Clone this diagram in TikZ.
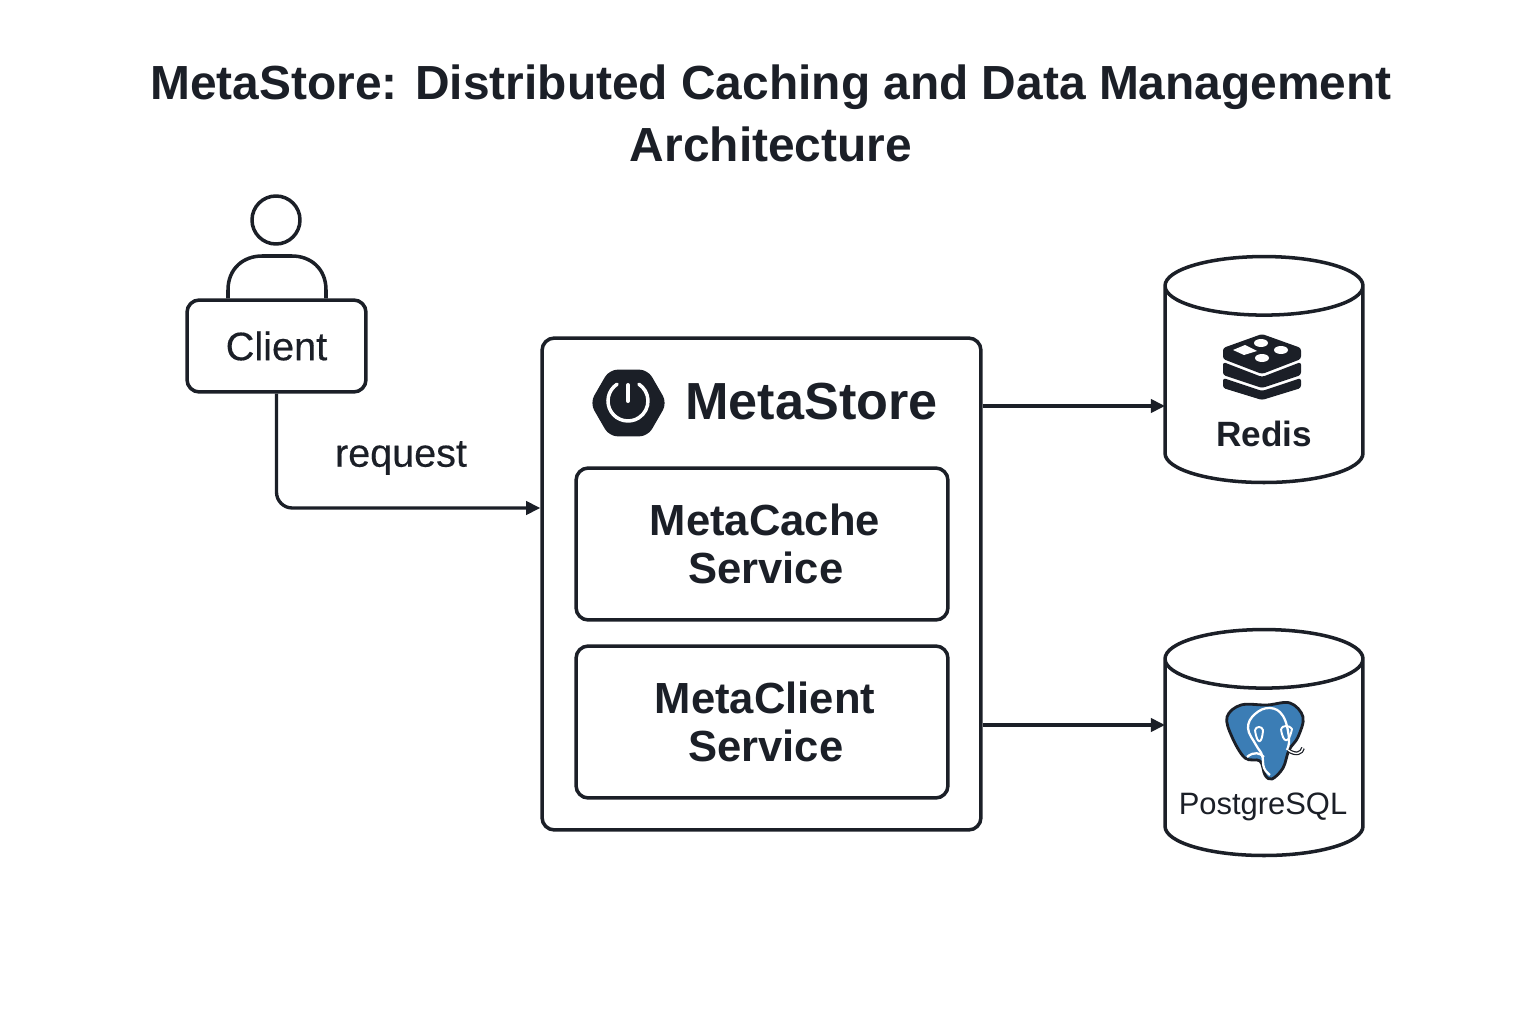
\documentclass[tikz,border=0pt]{standalone}
\usepackage{fontspec}
\setmainfont{Liberation Sans}
\newfontfamily\medfont[FakeBold=0.4]{Liberation Sans}
\usetikzlibrary{shapes.geometric,arrows.meta}
\definecolor{ink}{HTML}{1B1F27}
\definecolor{pgblue}{HTML}{3B7DB5}
\begin{document}
\begin{tikzpicture}[
    x=0.02cm,
    y=-0.02cm,
    line join=round,
    box/.style={rectangle, draw=ink, line width=2pt, rounded corners=7pt, align=center, text=ink},
    inner/.style={box, minimum width=7.44cm, minimum height=3.04cm, font=\fontsize{24.8}{27.2}\selectfont\bfseries},
    db/.style={cylinder, shape border rotate=90, shape aspect=5, draw=ink, line width=2pt, minimum width=3.96cm, minimum height=4.52cm, outer sep=0pt},
    arrow/.style={-{Triangle[length=8pt, width=7.5pt]}, draw=ink, line width=1.9pt},
    label/.style={text=ink, inner sep=0pt}
]
\useasboundingbox (0,0) rectangle (1536,1024);

% Title
\node[label, align=center, font=\fontsize{27.25}{35.2}\selectfont\bfseries] (title) at (771,113)
    {MetaStore: Distributed Caching and Data Management\\Architecture};

% Client
\node[circle, draw=ink, line width=2pt, minimum size=0.96cm, inner sep=0pt] (head) at (276,220) {};
\node[box, minimum width=3.58cm, minimum height=1.84cm, font=\fontsize{22.6}{24}\selectfont\medfont] (client) at (276.5,346) {Client};
\draw[ink, line width=2pt] (client.north -| 228,0) -- (228,290) .. controls (228,268) and (244,256) .. (262,256)
    -- (292,256) .. controls (310,256) and (326,268) .. (326,290) -- (client.north -| 326,0);

% MetaStore
\node[box, minimum width=8.78cm, minimum height=9.84cm] (metastore) at (761.5,584) {};
\node[inner] (metacache) at (762,544) {\hspace*{3.4pt}MetaCache\\\hspace*{4.4pt}Service};
\node[inner] (metaclient) at (762,722) {\hspace*{3.4pt}MetaClient\\\hspace*{4.4pt}Service};
\node[label, font=\fontsize{29.7}{32}\selectfont\bfseries] (metatitle) at (811.5,402) {MetaStore};

% Power logo
\node[regular polygon, regular polygon sides=6, fill=ink, draw=ink, line width=3pt, rounded corners=4pt,
    minimum size=1.42cm, inner sep=0pt] (powerlogo) at (628.5,403) {};
\draw[white, line width=2pt, line cap=round] (617.1,384.2) arc[start angle=123, end angle=417, radius=0.4cm];
\draw[white, line width=2.3pt, line cap=round] (628,385) -- (628,401);

% Stores
\node[db] (redis) at (1264,390) {};
\node[db] (postgres) at (1264,763) {};
\node[label, font=\fontsize{20}{24}\selectfont\bfseries] (redislabel) at (1264,434) {Redis};
\node[label, font=\fontsize{17.6}{24}\selectfont] (pglabel) at (1263,807) {PostgreSQL};

% Redis logo
\fill[ink, rounded corners=1.5pt] (1223,348) -- (1262,334) -- (1301,348) -- (1301,359) -- (1262,374) -- (1223,359) -- cycle;
\fill[ink, rounded corners=1.5pt] (1223,362) -- (1262,377) -- (1301,362) -- (1301,375) -- (1262,388) -- (1223,375) -- cycle;
\fill[ink, rounded corners=1.5pt] (1223,378) -- (1262,391) -- (1301,378) -- (1301,388) -- (1262,400) -- (1223,388) -- cycle;
\fill[white] (1233,350) -- (1245,345) -- (1257,351) -- (1244,355) -- cycle;
\foreach \cx/\cy in {1261/343, 1281/350, 1262/358}
    \fill[white] (\cx,\cy) ellipse [x radius=0.14cm, y radius=0.08cm];

% Postgres logo
\draw[ink, line width=1.6pt, fill=pgblue] plot[smooth cycle, tension=0.6] coordinates {
    (1241,705) (1267,705) (1290,703) (1303,717) (1298,737) (1289,750) (1283,768) (1272,779)
    (1265,775) (1260,761) (1245,758) (1232,737) (1227,717)};
\draw[white, line width=1.3pt] plot[smooth, tension=0.7] coordinates {
    (1270,775) (1264,768) (1262,755) (1256,745) (1248,728) (1255,714) (1270,708) (1283,716) (1289,738) (1287,750)};
\draw[white, line width=1.3pt] (1247,757) .. controls (1254,751) and (1260,753) .. (1264,757);
\draw[white, line width=1.1pt] (1255,730) .. controls (1257,745) and (1262,745) .. (1263,730) .. controls (1262,726) and (1256,726) .. (1255,730);
\draw[white, line width=1.1pt] (1281,729) .. controls (1283,744) and (1289,744) .. (1292,729) .. controls (1290,725) and (1282,725) .. (1281,729);
\draw[ink, line width=2.2pt] (1288,750) .. controls (1296,756) and (1302,753) .. (1303,748);
\draw[white, line width=0.8pt] (1288,750) .. controls (1296,756) and (1302,753) .. (1303,748);

% Connectors
\draw[arrow, rounded corners=9pt] (client.south) -- (client.south |- 0,508) -- (metastore.west |- 0,508);
\node[label, font=\fontsize{22.5}{24}\selectfont\medfont] (request) at (401,458) {request};
\draw[arrow] (metastore.east |- 0,406) -- (redis.west |- 0,406);
\draw[arrow] (metastore.east |- 0,725) -- (postgres.west |- 0,725);

\end{tikzpicture}
\end{document}
